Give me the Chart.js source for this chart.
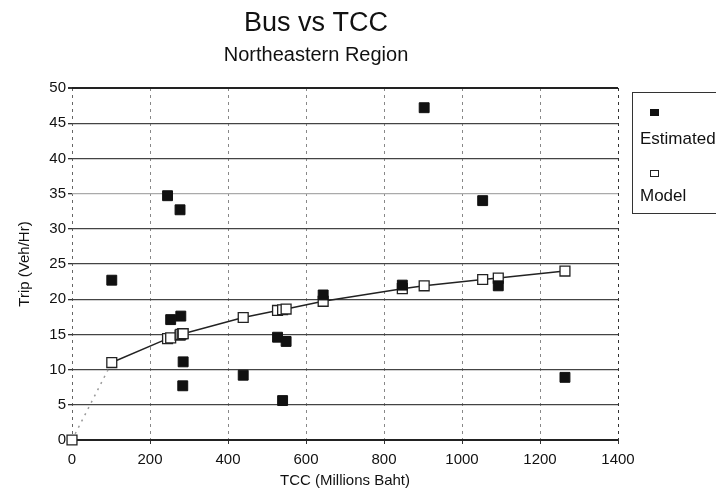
<!DOCTYPE html>
<html>
<head>
<meta charset="utf-8">
<script src="https://cdn.jsdelivr.net/npm/chart.js@4/dist/chart.umd.min.js"></script>
<style>
  html,body{margin:0;padding:0;background:#fff;overflow:hidden}
  #wrap{position:relative;width:716px;height:496px}
  #legend{position:absolute;left:632px;top:92px;width:100px;height:120px;border:1.5px solid #333;border-right:none;
    font-family:'Liberation Sans',Arial,sans-serif;font-size:17px;color:#111}
  #legend .mk{position:absolute;left:17px;width:9px;height:7px;box-sizing:border-box}
  #legend .lb{position:absolute;left:7px}
</style>
</head>
<body>
<div id="wrap">
  <canvas id="chart" width="716" height="496"></canvas>
  <div id="legend">
    <div class="mk" style="top:16px;background:#111"></div>
    <div class="lb" style="top:36px">Estimated</div>
    <div class="mk" style="top:77px;border:1.5px solid #222;background:#fff"></div>
    <div class="lb" style="top:93px">Model</div>
  </div>
</div>
<script>
// valores
const tcc = [102, 245, 253, 277, 279, 284, 285, 439, 527, 540, 549, 644, 847, 903, 1053, 1093, 1264];
const tripEstimated = [22.7, 34.7, 17.1, 32.7, 17.6, 7.7, 11.1, 9.2, 14.6, 5.6, 14.0, 20.6, 22.0, 47.2, 34.0, 21.9, 8.9];
const modelTcc = [0, 102, 245, 253, 277, 279, 284, 285, 439, 527, 540, 549, 644, 847, 903, 1053, 1093, 1264];
const tripModel = [0, 11.0, 14.4, 14.5, 14.9, 15.0, 15.1, 15.1, 17.4, 18.4, 18.5, 18.6, 19.7, 21.5, 21.9, 22.8, 23.0, 24.0];
const xTicks = [0, 200, 400, 600, 800, 1000, 1200, 1400];
const yTicks = [0, 5, 10, 15, 20, 25, 30, 35, 40, 45, 50];

const FONT = "'Liberation Sans', Arial, sans-serif";

const estPts = tcc.map((x,i)=>({x, y: tripEstimated[i]}));
const modelPts = modelTcc.map((x,i)=>({x, y: tripModel[i]}));

new Chart(document.getElementById('chart').getContext('2d'),{
  type:'scatter',
  data:{datasets:[
    {label:'Model', data:modelPts, showLine:true, clip:false, borderColor:'#222', borderWidth:1.5,
     pointStyle:'rect', pointRadius:7, pointBackgroundColor:'#fff', pointBorderColor:'#222', pointBorderWidth:1.3,
     segment:{
       borderDash: ctx => ctx.p0DataIndex === 0 ? [2,5] : undefined,
       borderColor: ctx => ctx.p0DataIndex === 0 ? '#999' : undefined
     }, order:2},
    {label:'Estimated', data:estPts, clip:false, pointStyle:'rect', pointRadius:7,
     pointBackgroundColor:'#111', pointBorderColor:'#111', pointBorderWidth:1, order:1}
  ]},
  options:{
    responsive:false, animation:false,
    layout:{padding:{left:14, right:98, top:0, bottom:0}},
    plugins:{
      legend:{display:false}, tooltip:{enabled:false},
      title:{display:true, text:'Bus vs TCC', color:'#111',
        font:{family:FONT, size:27, weight:'normal', lineHeight:1}, padding:{top:10, bottom:6}},
      subtitle:{display:true, text:'Northeastern Region', color:'#111',
        font:{family:FONT, size:20, lineHeight:1}, padding:{top:2, bottom:23}}
    },
    scales:{
      x:{type:'linear', min:0, max:1400,
        afterFit: s => { s.height = 56; },
        afterBuildTicks: s => { s.ticks = xTicks.map(v=>({value:v})); },
        border:{display:false, dash:[3,4]},
        grid:{color: c => (c.tick && (c.tick.value===1400)) ? '#333' : (c.tick && c.tick.value===0 ? '#666' : '#888'),
              lineWidth:1, tickLength:4, tickColor:'#333'},
        ticks:{color:'#111', padding:7, font:{family:FONT, size:15}, maxRotation:0, callback: v => String(v)},
        title:{display:true, text:'TCC (Millions Baht)', color:'#111',
          font:{family:FONT, size:15, lineHeight:1.2}, padding:{top:0, bottom:6}}
      },
      y:{type:'linear', min:0, max:50,
        afterFit: s => { s.width = 58; },
        afterBuildTicks: s => { s.ticks = yTicks.map(v=>({value:v})); },
        border:{display:false},
        grid:{color: c => c.tick && c.tick.value===35 ? '#aaa' : (c.tick && (c.tick.value===50 || c.tick.value===0) ? '#222' : '#444'),
              lineWidth: c => c.tick && (c.tick.value===50 || c.tick.value===0) ? 2 : 1.3,
              tickLength:4, tickColor:'#333'},
        ticks:{color:'#111', padding:2, font:{family:FONT, size:15}, callback: v => String(v)},
        title:{display:true, text:'Trip (Veh/Hr)', color:'#111',
          font:{family:FONT, size:15, lineHeight:1.2}, padding:{top:2, bottom:0}}
      }
    }
  }
});
</script>
</body>
</html>
